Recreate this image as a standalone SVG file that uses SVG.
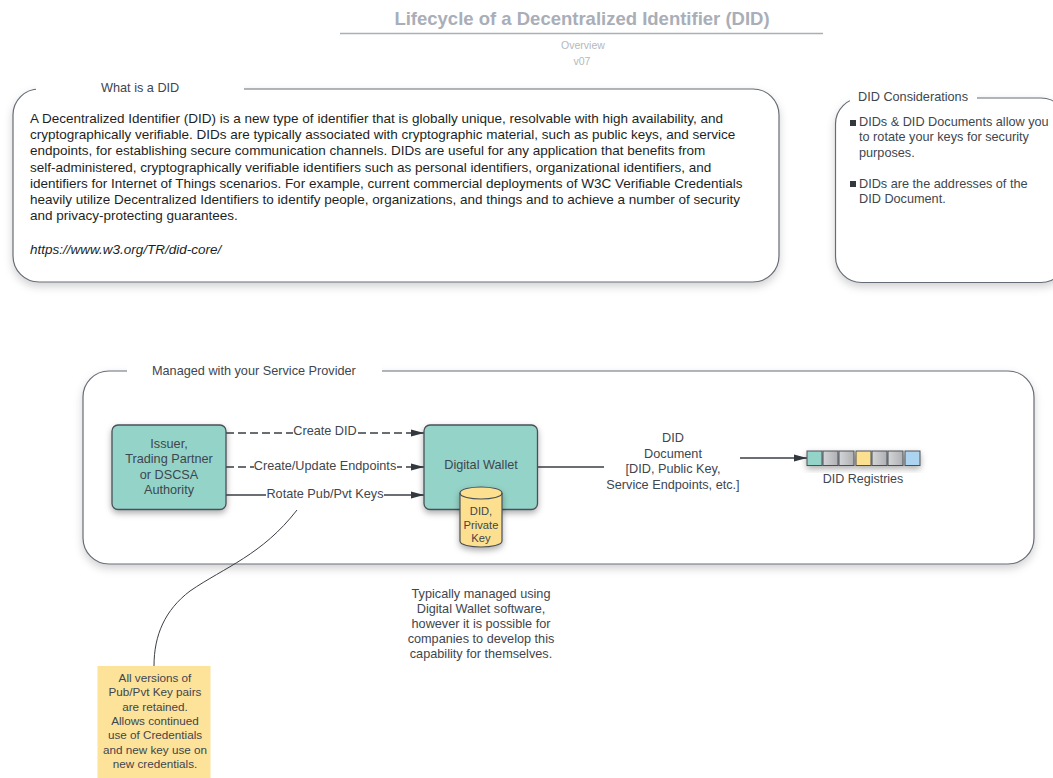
<svg xmlns="http://www.w3.org/2000/svg" width="1053" height="778" viewBox="0 0 1053 778">
<style>
text{font-family:"Liberation Sans",Arial,sans-serif;fill:#40464e;font-size:12.7px}
.m{text-anchor:middle}
.b{font-size:13.5px;fill:#1c1f24}
.s{font-size:11.7px}
.k{font-size:11.2px}
.panel{fill:#fff;stroke:#666c75;stroke-width:1.2;filter:url(#s)}
.teal{fill:#94d3c7;stroke:#4a5058;stroke-width:1.3;filter:url(#s2)}
.c{fill:none;stroke:#3a3f46;stroke-width:1.3}
.d{stroke-dasharray:8 4}
.mask{fill:#fff}
.g{fill:url(#gg);stroke:#4a5058;stroke-width:1}
</style>
<defs>
<filter id="s" x="-5%" y="-10%" width="110%" height="125%"><feDropShadow dx="0" dy="4" stdDeviation="4" flood-color="#000" flood-opacity=".18"/></filter>
<filter id="s2" x="-15%" y="-30%" width="130%" height="180%"><feDropShadow dx="0" dy="3" stdDeviation="3" flood-color="#000" flood-opacity=".32"/></filter>
<marker id="a" markerWidth="14" markerHeight="8" refX="13" refY="4" orient="auto" markerUnits="userSpaceOnUse"><path d="M0 0.500L13 4L0 7.500Z" fill="#33383f"/></marker>
<linearGradient id="gg"><stop offset="0" stop-color="#d4d5d7"/><stop offset="1" stop-color="#aeb0b3"/></linearGradient>
</defs>
<rect width="1053" height="778" fill="#fff"/>
<g id="title">
<text x="582" y="25" class="m" style="font-size:18.5px;font-weight:bold;fill:#a9aeb8">Lifecycle of a Decentralized Identifier (DID)</text>
<path d="M340 33.500H823" stroke="#a9aeb8" stroke-width="1.300"/>
<text x="583" y="49" class="m" style="font-size:10.500px;fill:#b5b8bd">Overview</text>
<text x="582" y="65" class="m" style="font-size:10.500px;fill:#b5b8bd">v07</text>
</g>
<g id="what-is-a-did">
<rect class="panel" x="13" y="89" width="766" height="193" rx="26"/>
<rect class="mask" x="36" y="78" width="208" height="22"/>
<text x="101" y="92">What is a DID</text>
<text class="b" x="30" y="122.500">A Decentralized Identifier (DID) is a new type of identifier that is globally unique, resolvable with high availability, and</text>
<text class="b" x="30" y="139">cryptographically verifiable. DIDs are typically associated with cryptographic material, such as public keys, and service</text>
<text class="b" x="30" y="155.200">endpoints, for establishing secure communication channels. DIDs are useful for any application that benefits from</text>
<text class="b" x="30" y="171.500">self-administered, cryptographically verifiable identifiers such as personal identifiers, organizational identifiers, and</text>
<text class="b" x="30" y="187.800">identifiers for Internet of Things scenarios. For example, current commercial deployments of W3C Verifiable Credentials</text>
<text class="b" x="30" y="204">heavily utilize Decentralized Identifiers to identify people, organizations, and things and to achieve a number of security</text>
<text class="b" x="30" y="220.300">and privacy-protecting guarantees.</text>
<text class="b" x="30" y="253.500" font-style="italic">https://www.w3.org/TR/did-core/</text>
</g>
<g id="did-considerations">
<rect class="panel" x="835.500" y="98" width="231.500" height="184.500" rx="26"/>
<rect class="mask" x="850" y="86" width="127" height="22"/>
<text x="858" y="101">DID Considerations</text>
<rect x="850" y="120" width="6" height="6" fill="#33383f"/>
<text x="859" y="126">DIDs &amp; DID Documents allow you</text>
<text x="859" y="141">to rotate your keys for security</text>
<text x="859" y="156.500">purposes.</text>
<rect x="850" y="181" width="6" height="6" fill="#33383f"/>
<text x="859" y="187.500">DIDs are the addresses of the</text>
<text x="859" y="203">DID Document.</text>
</g>
<g id="service-provider">
<rect class="panel" x="83" y="371" width="951" height="193" rx="26"/>
<rect class="mask" x="127" y="360" width="255" height="22"/>
<text x="152" y="375">Managed with your Service Provider</text>
</g>
<g id="connectors">
<path class="c d" d="M226 433H424" marker-end="url(#a)"/>
<path class="c d" d="M226 467H424" marker-end="url(#a)"/>
<path class="c" d="M226 495H424" marker-end="url(#a)"/>
<path class="c" d="M538 467H604"/>
<path class="c" d="M740 458H807" marker-end="url(#a)"/>
<path d="M297 510C262 555 225 567 190 591C165 610 154 635 154 666" fill="none" stroke="#3a3f46"/>
</g>
<g id="connector-labels">
<rect class="mask" x="293" y="424" width="65" height="18"/>
<text x="325" y="435" class="m">Create DID</text>
<rect class="mask" x="254" y="458" width="143" height="18"/>
<text x="325" y="470" class="m">Create/Update Endpoints</text>
<rect class="mask" x="266" y="486" width="118" height="18"/>
<text x="325" y="497.500" class="m">Rotate Pub/Pvt Keys</text>
</g>
<g id="issuer">
<rect class="teal" x="112" y="425" width="114" height="84.500" rx="6"/>
<text x="169" y="448" class="m">Issuer,</text>
<text x="169" y="463" class="m">Trading Partner</text>
<text x="169" y="478.500" class="m">or DSCSA</text>
<text x="169" y="494" class="m">Authority</text>
</g>
<g id="digital-wallet">
<rect class="teal" x="424" y="425" width="113.500" height="84.500" rx="6"/>
<text x="481" y="469" class="m">Digital Wallet</text>
</g>
<g id="did-private-key">
<path d="M460 493C460 485 502 485 502 493V541C502 549 460 549 460 541Z" fill="#fce08f" stroke="#4a5058" stroke-width="1.200" filter="url(#s2)"/>
<path d="M460 493C460 501 502 501 502 493" fill="none" stroke="#4a5058" stroke-width="1.200"/>
<text x="481" y="515" class="m k">DID,</text>
<text x="481" y="528.500" class="m k">Private</text>
<text x="481" y="542" class="m k">Key</text>
</g>
<g id="did-document">
<text x="673" y="442" class="m">DID</text>
<text x="673" y="457.500" class="m">Document</text>
<text x="673" y="473" class="m">[DID, Public Key,</text>
<text x="673" y="488.500" class="m">Service Endpoints, etc.]</text>
</g>
<g id="did-registries">
<g filter="url(#s2)">
<rect x="807" y="451" width="15" height="14.500" fill="#94d3c7" stroke="#4a5058"/>
<rect x="823" y="451" width="15" height="14.500" class="g"/>
<rect x="839" y="451" width="15" height="14.500" class="g"/>
<rect x="856" y="451" width="15" height="14.500" fill="#fce08f" stroke="#4a5058"/>
<rect x="872" y="451" width="15" height="14.500" class="g"/>
<rect x="888" y="451" width="15" height="14.500" class="g"/>
<rect x="905" y="451" width="15" height="14.500" fill="#acd3f0" stroke="#4a5058"/>
</g>
<text x="863" y="483" class="m" style="font-size:12.500px">DID Registries</text>
</g>
<g id="wallet-note">
<text x="481" y="598" class="m">Typically managed using</text>
<text x="481" y="613" class="m">Digital Wallet software,</text>
<text x="481" y="628" class="m">however it is possible for</text>
<text x="481" y="643" class="m">companies to develop this</text>
<text x="481" y="658" class="m">capability for themselves.</text>
</g>
<g id="key-note">
<rect x="97.500" y="666" width="113" height="112" fill="#fde29a"/>
<text x="155" y="682" class="m s">All versions of</text>
<text x="155" y="696" class="m s">Pub/Pvt Key pairs</text>
<text x="155" y="710.500" class="m s">are retained.</text>
<text x="155" y="725" class="m s">Allows continued</text>
<text x="155" y="739" class="m s">use of Credentials</text>
<text x="155" y="753.500" class="m s">and new key use on</text>
<text x="155" y="768" class="m s">new credentials.</text>
</g>
</svg>
